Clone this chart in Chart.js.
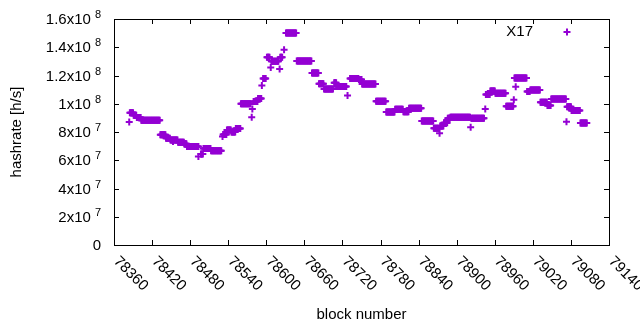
<!DOCTYPE html>
<html>
<head>
<meta charset="utf-8">
<style>
    html, body { margin: 0; padding: 0; background: #fff; }
    canvas { display: block; }
</style>
<script src="https://cdn.jsdelivr.net/npm/chart.js@4"></script>
</head>
<body>
<canvas id="hashChart" width="640" height="330"></canvas>
<script>
const seriesName = "X17";

// runs of blocks with the same hashrate estimate
const runFirst = [78385, 78391, 78396, 78403, 78433, 78442, 78449, 78461, 78471, 78475,
    78497, 78501, 78513, 78532, 78538, 78545, 78552, 78560, 78580, 78587,
    78595, 78601, 78608, 78622, 78631, 78648, 78672, 78683, 78691, 78707,
    78711, 78732, 78746, 78751, 78773, 78789, 78803, 78816, 78825, 78845,
    78864, 78874, 78880, 78886, 78890, 78923, 78946, 78953, 78961, 78978,
    78991, 79011, 79016, 79032, 79043, 79049, 79074, 79081, 79095];
const runLast = [78390, 78395, 78402, 78432, 78441, 78448, 78460, 78470, 78474, 78493,
    78500, 78512, 78529, 78537, 78544, 78551, 78559, 78575, 78586, 78592,
    78599, 78605, 78619, 78625, 78647, 78671, 78682, 78690, 78705, 78710,
    78726, 78745, 78750, 78772, 78788, 78802, 78815, 78824, 78844, 78863,
    78872, 78879, 78885, 78889, 78921, 78943, 78952, 78960, 78977, 78989,
    79010, 79015, 79031, 79042, 79048, 79072, 79080, 79094, 79105];
const runRate = [93.6e6, 91.8e6, 90.2e6, 88.4e6, 78.0e6, 75.6e6, 74.4e6, 72.8e6, 71.6e6, 69.7e6,
    64.5e6, 68.3e6, 66.8e6, 78.3e6, 81.5e6, 80.0e6, 82.4e6, 100.0e6, 101.6e6, 103.7e6,
    117.9e6, 132.9e6, 130.1e6, 132.9e6, 150.1e6, 130.2e6, 121.7e6, 114.1e6, 110.4e6, 114.8e6,
    112.2e6, 117.9e6, 117.2e6, 113.9e6, 101.7e6, 94.1e6, 96.1e6, 94.3e6, 96.9e6, 87.8e6,
    82.7e6, 84.2e6, 86.5e6, 89.8e6, 90.5e6, 89.8e6, 106.6e6, 109.0e6, 107.5e6, 98.2e6,
    118.2e6, 108.6e6, 109.7e6, 101.0e6, 98.8e6, 103.3e6, 97.8e6, 95.2e6, 86.3e6];

// single outlying blocks
const loneBlock = [78384, 78453, 78493, 78531, 78577, 78578, 78593, 78607, 78621, 78628,
    78728, 78873, 78922, 78945, 78990, 78993, 79073];
const loneRate = [87.0e6, 73.2e6, 62.6e6, 76.8e6, 90.5e6, 96.2e6, 112.9e6, 125.7e6, 124.6e6, 138.2e6,
    105.8e6, 79.2e6, 83.3e6, 96.2e6, 102.8e6, 112.0e6, 87.2e6];

const xTickValues = [78360, 78420, 78480, 78540, 78600, 78660, 78720, 78780, 78840, 78900, 78960, 79020, 79080, 79140];
const yTickValues = [0, 2e7, 4e7, 6e7, 8e7, 1e8, 1.2e8, 1.4e8, 1.6e8];

const purple = "#9400d3";
const fontFamily = '"Liberation Sans", Arial, sans-serif';

const points = [];
runFirst.forEach((first, i) => {
    for (let b = first; b <= runLast[i]; b++) {
        points.push({ x: b, y: runRate[i] });
    }
});
loneBlock.forEach((b, i) => points.push({ x: b, y: loneRate[i] }));

function drawCross(ctx, x, y, r) {
    ctx.beginPath();
    ctx.moveTo(x - r, y);
    ctx.lineTo(x + r, y);
    ctx.moveTo(x, y - r);
    ctx.lineTo(x, y + r);
    ctx.stroke();
}

// gnuplot look: box with inward ticks, rotated x labels, superscript y labels
const gnuplotFrame = {
    id: "gnuplotFrame",
    afterDraw(chart) {
        const ctx = chart.ctx;
        const area = chart.chartArea;
        const xs = chart.scales.x;
        const ys = chart.scales.y;
        const tick = 5;

        ctx.save();
        ctx.strokeStyle = "#000";
        ctx.lineWidth = 1;
        ctx.strokeRect(area.left + 0.5, area.top + 0.5, area.right - area.left, area.bottom - area.top);

        ctx.beginPath();
        xTickValues.forEach(v => {
            const px = Math.round(xs.getPixelForValue(v)) + 0.5;
            ctx.moveTo(px, area.bottom);
            ctx.lineTo(px, area.bottom - tick);
            ctx.moveTo(px, area.top);
            ctx.lineTo(px, area.top + tick);
        });
        yTickValues.forEach(v => {
            const py = Math.round(ys.getPixelForValue(v)) + 0.5;
            ctx.moveTo(area.left, py);
            ctx.lineTo(area.left + tick, py);
            ctx.moveTo(area.right, py);
            ctx.lineTo(area.right - tick, py);
        });
        ctx.stroke();

        ctx.fillStyle = "#000";

        // x tick labels, rotated down-right from the tick
        ctx.font = "15px " + fontFamily;
        ctx.textAlign = "left";
        ctx.textBaseline = "middle";
        xTickValues.forEach(v => {
            const px = xs.getPixelForValue(v);
            ctx.save();
            ctx.translate(px + 2, area.bottom + 14);
            ctx.rotate(Math.PI / 4);
            ctx.fillText(String(v), 0, 0);
            ctx.restore();
        });

        // y tick labels with exponent
        yTickValues.forEach(v => {
            const py = ys.getPixelForValue(v) + 1;
            const rightEdge = 101;
            ctx.textAlign = "right";
            if (v === 0) {
                ctx.font = "15px " + fontFamily;
                ctx.fillText("0", rightEdge, py);
                return;
            }
            const exp = Math.floor(Math.log10(v));
            const mant = parseFloat((v / Math.pow(10, exp)).toFixed(1));
            ctx.font = "11px " + fontFamily;
            const supW = ctx.measureText(String(exp)).width;
            ctx.fillText(String(exp), rightEdge, py - 5);
            ctx.font = "15px " + fontFamily;
            ctx.fillText(mant + "x10", rightEdge - supW - 4, py);
        });

        // axis titles
        ctx.font = "15px " + fontFamily;
        ctx.textAlign = "center";
        ctx.fillText("block number", (area.left + area.right) / 2, 315);
        ctx.save();
        ctx.translate(17, (area.top + area.bottom) / 2);
        ctx.rotate(-Math.PI / 2);
        ctx.fillText("hashrate [h/s]", 0, 0);
        ctx.restore();

        // key
        ctx.textAlign = "right";
        ctx.fillText(seriesName, 533, 32);
        ctx.strokeStyle = purple;
        ctx.lineWidth = 2;
        drawCross(ctx, 567, 32, 3.5);

        ctx.restore();
    }
};

document.addEventListener("DOMContentLoaded", function () {
    const hashCtx = document.getElementById("hashChart");

    if (hashCtx) {
        new Chart(hashCtx, {
            type: "scatter",
            data: {
                datasets: [{
                    label: seriesName,
                    data: points,
                    pointStyle: "cross",
                    pointRadius: 3.5,
                    pointHoverRadius: 3.5,
                    borderWidth: 2,
                    borderColor: purple,
                    backgroundColor: purple
                }]
            },
            options: {
                responsive: false,
                animation: false,
                devicePixelRatio: 1,
                layout: {
                    padding: { top: 19, right: 31, left: 0, bottom: 0 }
                },
                plugins: {
                    legend: { display: false },
                    tooltip: { enabled: false }
                },
                scales: {
                    x: {
                        type: "linear",
                        min: xTickValues[0],
                        max: xTickValues[xTickValues.length - 1],
                        grid: { display: false },
                        border: { display: false },
                        ticks: { display: false },
                        afterBuildTicks: scale => {
                            scale.ticks = xTickValues.map(v => ({ value: v }));
                        },
                        afterFit: scale => { scale.height = 85; }
                    },
                    y: {
                        min: yTickValues[0],
                        max: yTickValues[yTickValues.length - 1],
                        grid: { display: false },
                        border: { display: false },
                        ticks: { display: false },
                        afterBuildTicks: scale => {
                            scale.ticks = yTickValues.map(v => ({ value: v }));
                        },
                        afterFit: scale => { scale.width = 114; }
                    }
                }
            },
            plugins: [gnuplotFrame]
        });
    }
});
</script>
</body>
</html>
